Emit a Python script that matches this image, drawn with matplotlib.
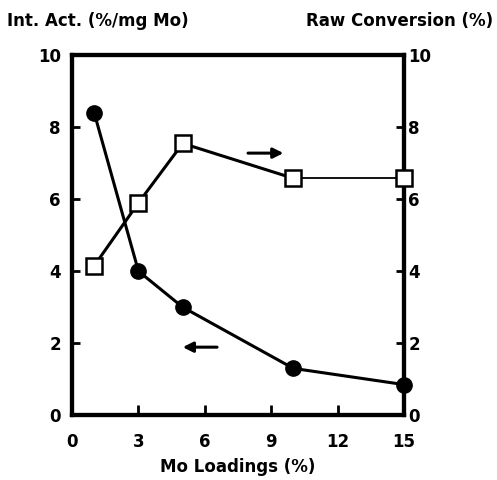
import matplotlib
matplotlib.use('Agg')
import matplotlib.pyplot as plt

plt.rcParams['font.family'] = ['DejaVu Sans']
plt.rcParams['font.weight'] = 'bold'
plt.rcParams['xtick.direction'] = 'in'
plt.rcParams['ytick.direction'] = 'in'

# --- data ---
mo_loading = [1, 3, 5, 10, 15]
int_activity = [8.4, 4.0, 3.0, 1.3, 0.85]
raw_conversion = [4.15, 5.9, 7.55, 6.58, 6.58]

x_ticks = [0, 3, 6, 9, 12, 15]
y_ticks = [0, 2, 4, 6, 8, 10]

# arrows: (tail x, head x, y) in data units
arrow_right = (7.95, 9.55, 7.28)
arrow_left = (6.55, 5.0, 1.89)

fig = plt.figure(figsize=(4.97, 4.80), dpi=100)
ax1 = fig.add_axes([0.145, 0.135, 0.668, 0.75])
ax2 = ax1.twinx()

# Int. Act. (left axis)
ax1.plot(mo_loading, int_activity, color='black', lw=2.2, marker='o',
         markersize=11, markerfacecolor='black', clip_on=False, zorder=3)

# Raw conversion (right axis), last segment drawn thinner
ax2.plot(mo_loading[:4], raw_conversion[:4], color='black', lw=2.2, zorder=2)
ax2.plot(mo_loading[3:], raw_conversion[3:], color='black', lw=1.3, zorder=2)
ax2.plot(mo_loading, raw_conversion, linestyle='none', marker='s',
         markersize=11, markerfacecolor='white', markeredgecolor='black',
         markeredgewidth=1.8, clip_on=False, zorder=4)

for ax in (ax1, ax2):
    ax.set_xlim(0, 15)
    ax.set_ylim(0, 10)
    ax.set_yticks(y_ticks)
    ax.set_yticklabels([str(t) for t in y_ticks], fontsize=12, fontweight='bold')
    for sp in ax.spines.values():
        sp.set_linewidth(3)

ax1.set_xticks(x_ticks)
ax1.set_xticklabels([str(t) for t in x_ticks], fontsize=12, fontweight='bold')
ax1.tick_params(axis='x', length=7, width=2, pad=13)
ax1.tick_params(axis='y', length=6, width=2, pad=8)
ax2.tick_params(axis='y', length=6, width=2, pad=3)

ax1.set_xlabel('Mo Loadings (%)', fontsize=12, fontweight='bold', labelpad=5)

fig.text(0.015, 0.957, 'Int. Act. (%/mg Mo)', fontsize=12, fontweight='bold',
         ha='left', va='center')
fig.text(0.992, 0.957, 'Raw Conversion (%)', fontsize=12, fontweight='bold',
         ha='right', va='center')

for tail, head, yy in (arrow_right, arrow_left):
    ax1.annotate('', xy=(head, yy), xytext=(tail, yy),
                 arrowprops=dict(arrowstyle='-|>,head_length=0.6,head_width=0.3',
                                 color='black', lw=2.2, shrinkA=0, shrinkB=0))

fig.savefig('out.png', dpi=100)
